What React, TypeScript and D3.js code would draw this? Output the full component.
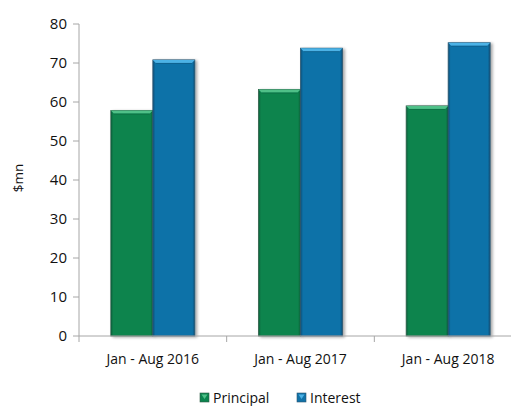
import React from "react";
import * as d3 from "d3";

const categories = ["Jan - Aug 2016", "Jan - Aug 2017", "Jan - Aug 2018"];
const seriesNames = ["Principal", "Interest"];
const principal = [57.8, 63.2, 59.0];
const interest = [70.8, 73.8, 75.2];
const yTicks = [0, 10, 20, 30, 40, 50, 60, 70, 80];

const W = 511;
const H = 406;
const left = 79;
const right = 522;
const top = 24;
const bottom = 336;

const palette = {
  Principal: { base: "#0a844e", light: "#4fc088", dark: "#05603a", edge: "#2f5d48" },
  Interest: { base: "#1172a8", light: "#4cb2e6", dark: "#0a4f78", edge: "#2e5670" },
};

const font = "'Open Sans', 'DejaVu Sans', sans-serif";

export default function App() {
  const x0 = d3.scaleBand<string>().domain(categories).range([left, right]).paddingInner(0).paddingOuter(0);
  const x1 = d3.scaleBand<string>().domain(seriesNames).range([0, 84]);
  const y = d3.scaleLinear().domain([0, 80]).range([bottom, top]);
  const values: Record<string, number[]> = { Principal: principal, Interest: interest };

  const bars: { key: string; s: string; x: number; w: number; yTop: number }[] = [];
  categories.forEach((c, i) => {
    const gx = (x0(c) as number) + x0.bandwidth() / 2 - 42;
    seriesNames.forEach((s) => {
      bars.push({ key: `${c}-${s}`, s, x: gx + (x1(s) as number), w: x1.bandwidth(), yTop: y(values[s][i]) });
    });
  });

  const bevel = 3;

  return (
    <svg width={W} height={H} style={{ display: "block", position: "absolute", left: 0, top: 0 }}>
      <defs>
        <filter id="barShadow" x="-20%" y="-10%" width="140%" height="120%">
          <feGaussianBlur in="SourceAlpha" stdDeviation="1.5" />
          <feOffset dx="1.5" dy="1" result="blur" />
          <feComponentTransfer>
            <feFuncA type="linear" slope="0.35" />
          </feComponentTransfer>
          <feMerge>
            <feMergeNode />
            <feMergeNode in="SourceGraphic" />
          </feMerge>
        </filter>
        {seriesNames.map((s) => {
          const p = (palette as any)[s];
          return (
            <linearGradient key={s} id={`side-${s}`} x1="0" x2="1" y1="0" y2="0">
              <stop offset="0" stopColor={p.dark} />
              <stop offset="0.06" stopColor={p.base} />
              <stop offset="0.94" stopColor={p.base} />
              <stop offset="1" stopColor={p.dark} />
            </linearGradient>
          );
        })}
      </defs>
      <rect width={W} height={H} fill="#ffffff" />

      {/* bars */}
      {bars.map((b) => {
        const p = (palette as any)[b.s];
        const h = bottom - b.yTop;
        return (
          <g key={b.key} filter="url(#barShadow)">
            <rect x={b.x} y={b.yTop} width={b.w} height={h} fill={`url(#side-${b.s})`} stroke={p.edge} strokeWidth={0.8} />
            <polygon
              points={`${b.x},${b.yTop} ${b.x + b.w},${b.yTop} ${b.x + b.w - bevel},${b.yTop + bevel} ${b.x + bevel},${b.yTop + bevel}`}
              fill={p.light}
            />
            <line x1={b.x + bevel} x2={b.x + b.w - bevel} y1={b.yTop + bevel + 0.5} y2={b.yTop + bevel + 0.5} stroke={p.dark} strokeOpacity={0.5} />
          </g>
        );
      })}

      {/* y axis */}
      <line x1={left} x2={left} y1={top} y2={bottom} stroke="#a6a6a6" />
      {yTicks.map((t) => (
        <g key={t}>
          <line x1={left - 6} x2={left} y1={y(t)} y2={y(t)} stroke="#a6a6a6" />
          <text x={67} y={y(t)} dy="0.35em" textAnchor="end" fontFamily={font} fontSize={15} fill="#111">
            {t}
          </text>
        </g>
      ))}
      <text transform={`translate(23,178) rotate(-90)`} textAnchor="middle" fontFamily={font} fontSize={13.5} fill="#111">
        $mn
      </text>

      {/* x axis */}
      <line x1={left} x2={right} y1={bottom} y2={bottom} stroke="#a6a6a6" />
      {[...categories.map((c) => x0(c) as number), right].map((v, i) => (
        <line key={i} x1={v} x2={v} y1={bottom} y2={bottom + 6} stroke="#a6a6a6" />
      ))}
      {categories.map((c) => (
        <text key={c} x={(x0(c) as number) + x0.bandwidth() / 2} y={364} textAnchor="middle" fontFamily={font} fontSize={14} fill="#111">
          {c}
        </text>
      ))}

      {/* legend */}
      {seriesNames.map((s, i) => {
        const p = (palette as any)[s];
        const lx = i === 0 ? 200 : 297;
        return (
          <g key={s}>
            <rect x={lx} y={393} width={9} height={9} fill={p.base} stroke={p.edge} strokeWidth={0.6} />
            <polygon points={`${lx + 1.5},${394.5} ${lx + 7.5},${394.5} ${lx + 4.5},${399}`} fill={p.light} />
            <text x={lx + 13} y={398} dy="0.35em" fontFamily={font} fontSize={14} fill="#111">
              {s}
            </text>
          </g>
        );
      })}
    </svg>
  );
}
